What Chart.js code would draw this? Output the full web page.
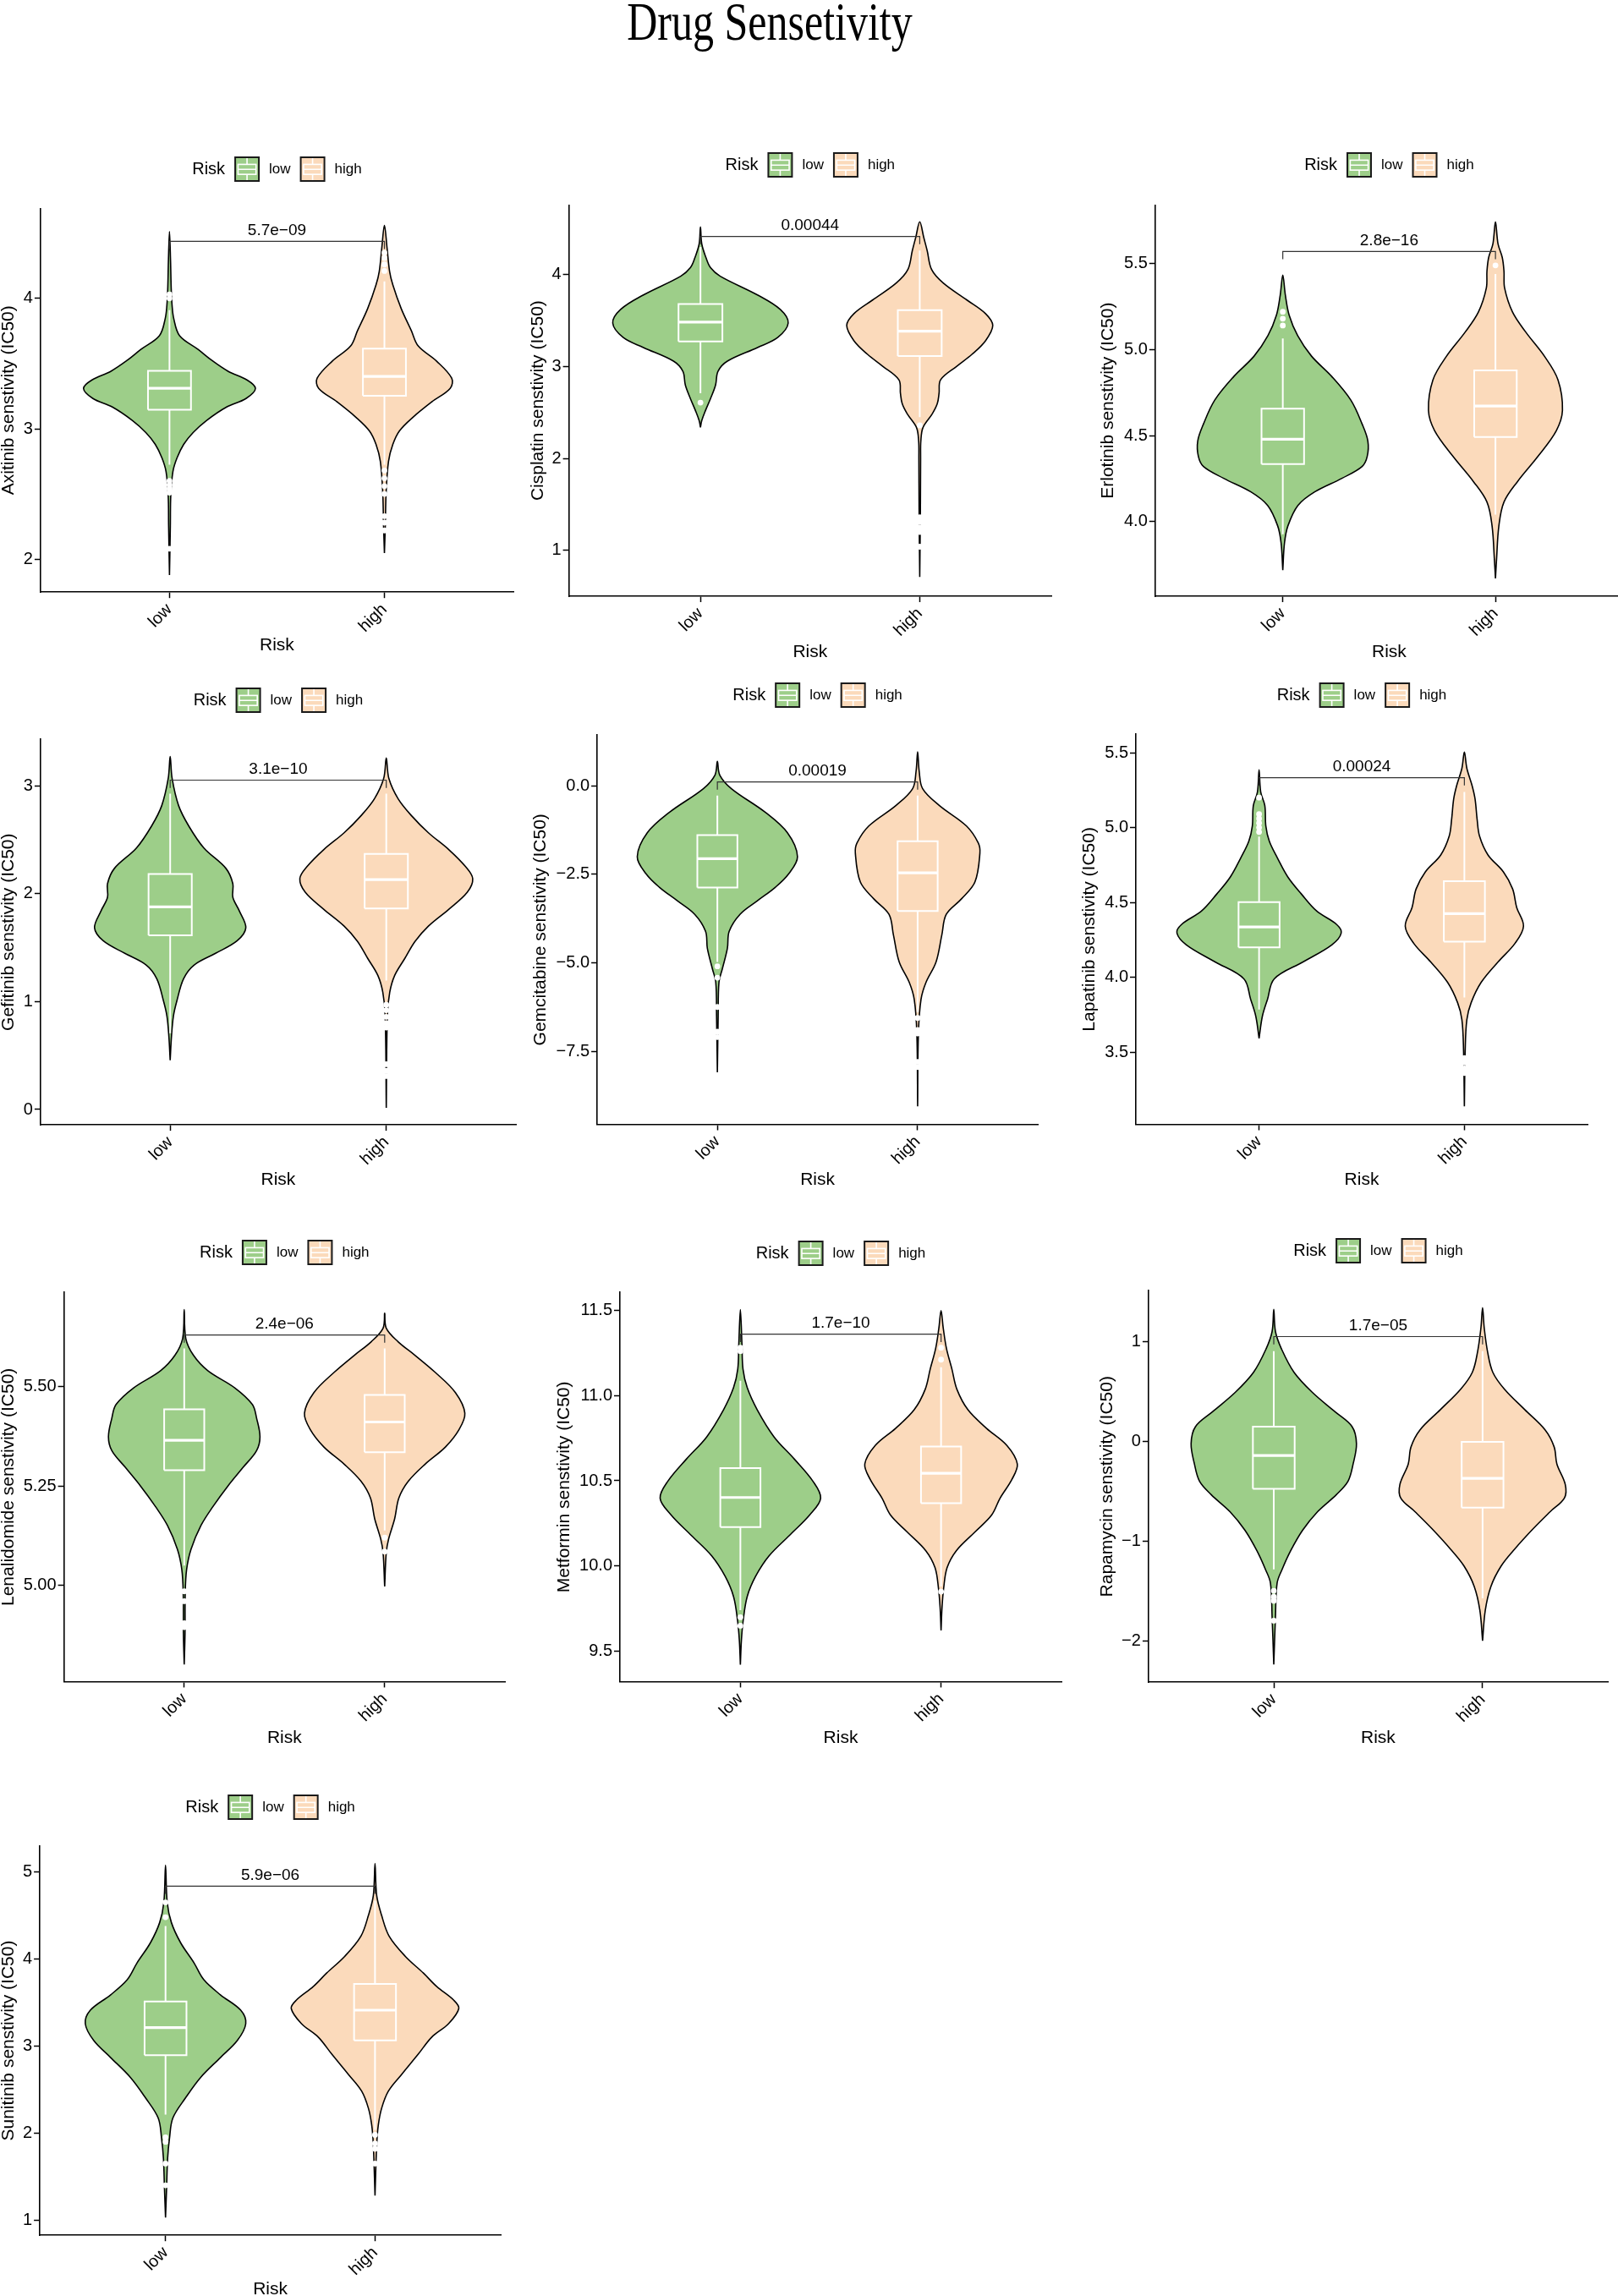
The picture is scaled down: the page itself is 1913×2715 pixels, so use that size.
<!DOCTYPE html>
<html><head><meta charset="utf-8">
<script src="https://cdn.jsdelivr.net/npm/chart.js@4.4.1/dist/chart.umd.min.js"></script>
<style>
html,body{margin:0;padding:0;background:#fff;width:1913px;height:2715px;overflow:hidden;position:relative;}
#title{position:absolute;left:910px;top:-6.6px;font-family:'Liberation Serif','Times New Roman',serif;font-size:50px;line-height:50px;white-space:nowrap;transform:translateX(-50%) scaleY(1.28);transform-origin:50% 0;color:#000;}
canvas{position:absolute;}
</style></head><body>
<div id="title">Drug Sensetivity</div>
<script>
// ---------------- DATA ----------------
const groups = ['low', 'high'];
const legendTitle = 'Risk';
const drugNames = ['Axitinib','Cisplatin','Erlotinib','Gefitinib','Gemcitabine','Lapatinib','Lenalidomide','Metformin','Rapamycin','Sunitinib'];
const pValueLabels = ['5.7e\u221209','0.00044','2.8e\u221216','3.1e\u221210','0.00019','0.00024','2.4e\u221206','1.7e\u221210','1.7e\u221205','5.9e\u221206'];
const bracketY = [4.4375, 4.414, 5.571, 3.053, 0.115, 5.333, 5.63, 11.359, 1.05, 4.837];
const yTickValues = [[2,3,4],[1,2,3,4],[4.0,4.5,5.0,5.5],[0,1,2,3],[-7.5,-5,-2.5,0],[3.5,4,4.5,5,5.5],[5,5.25,5.5],[9.5,10,10.5,11,11.5],[-2,-1,0,1],[1,2,3,4,5]];
const yTickLabels = [['2','3','4'],['1','2','3','4'],['4.0','4.5','5.0','5.5'],['0','1','2','3'],['\u22127.5','\u22125.0','\u22122.5','0.0'],['3.5','4.0','4.5','5.0','5.5'],['5.00','5.25','5.50'],['9.5','10.0','10.5','11.0','11.5'],['\u22122','\u22121','0','1'],['1','2','3','4','5']];

// violin density profiles (value, half width in category units)
const lowViolinY = [
 [1.878,2.255,2.49,2.672,2.776,2.88,2.971,3.063,3.167,3.232,3.31,3.375,3.44,3.526,3.609,3.714,3.844,3.948,4.078,4.286,4.513],
 [2.338,2.412,2.522,2.652,2.799,2.947,3.058,3.206,3.317,3.472,3.62,3.778,3.982,4.074,4.185,4.332,4.517],
 [3.717,3.875,3.974,4.093,4.172,4.251,4.32,4.379,4.468,4.567,4.706,4.844,4.962,5.081,5.2,5.318,5.433],
 [0.456,0.677,0.866,1.007,1.212,1.338,1.448,1.564,1.684,1.841,1.967,2.093,2.235,2.424,2.628,2.817,3.069,3.273],
 [-8.098,-6.513,-5.552,-5.168,-4.592,-4.111,-3.631,-3.247,-2.863,-2.478,-1.998,-1.326,-0.749,-0.077,0.307,0.692],
 [3.591,3.739,3.852,3.989,4.102,4.216,4.295,4.352,4.443,4.556,4.67,4.795,4.908,5.01,5.146,5.237,5.385],
 [4.801,4.878,4.98,5.04,5.091,5.151,5.198,5.25,5.297,5.339,5.374,5.421,5.455,5.497,5.54,5.579,5.621,5.694],
 [9.422,9.562,9.681,9.821,9.94,10.06,10.179,10.299,10.398,10.498,10.627,10.757,10.916,11.046,11.155,11.295,11.504],
 [-2.24,-1.763,-1.422,-1.285,-1.098,-0.893,-0.706,-0.535,-0.399,-0.228,-0.024,0.147,0.3,0.488,0.692,0.931,1.101,1.323],
 [1.031,1.36,1.709,1.941,2.173,2.406,2.638,2.87,3.064,3.257,3.412,3.587,3.761,3.955,4.187,4.419,4.651,5.077]
];
const lowViolinHalfWidth = [
 [0,0.004,0.006,0.016,0.035,0.066,0.11,0.172,0.266,0.356,0.40,0.36,0.274,0.196,0.133,0.047,0.02,0.012,0.008,0.005,0],
 [0,0.006,0.023,0.046,0.069,0.08,0.123,0.26,0.353,0.40,0.364,0.26,0.09,0.046,0.025,0.006,0],
 [0,0.008,0.024,0.071,0.15,0.278,0.373,0.397,0.40,0.373,0.32,0.23,0.135,0.07,0.03,0.012,0],
 [0,0.006,0.015,0.031,0.062,0.11,0.21,0.31,0.35,0.32,0.29,0.29,0.258,0.156,0.086,0.039,0.009,0],
 [0,0.004,0.008,0.025,0.05,0.059,0.113,0.20,0.29,0.357,0.40,0.35,0.24,0.07,0.012,0],
 [0,0.016,0.041,0.074,0.214,0.354,0.40,0.378,0.28,0.206,0.14,0.09,0.05,0.033,0.028,0.008,0],
 [0,0.004,0.005,0.012,0.034,0.084,0.143,0.218,0.294,0.361,0.378,0.361,0.34,0.252,0.118,0.046,0.008,0],
 [0,0.005,0.014,0.034,0.076,0.143,0.244,0.345,0.40,0.361,0.269,0.168,0.084,0.034,0.013,0.008,0],
 [0,0.008,0.016,0.04,0.081,0.138,0.21,0.3,0.356,0.38,0.396,0.375,0.291,0.186,0.097,0.036,0.008,0],
 [0,0.005,0.01,0.019,0.035,0.096,0.167,0.263,0.343,0.383,0.359,0.263,0.183,0.136,0.072,0.028,0.008,0]
];
const highViolinY = [
 [2.047,2.255,2.516,2.75,2.88,2.984,3.089,3.206,3.31,3.388,3.518,3.635,3.753,3.922,4.104,4.208,4.391,4.56],
 [0.712,1.451,2.005,2.19,2.338,2.485,2.596,2.707,2.855,3.003,3.132,3.28,3.446,3.575,3.723,3.908,4.055,4.259,4.406,4.573],
 [3.668,3.777,3.974,4.113,4.231,4.379,4.528,4.646,4.824,4.962,5.101,5.219,5.358,5.457,5.536,5.615,5.743],
 [0.016,0.866,1.086,1.243,1.401,1.558,1.7,1.857,2.014,2.14,2.251,2.408,2.565,2.723,2.88,3.069,3.258],
 [-9.059,-6.993,-6.033,-5.552,-4.976,-4.208,-3.631,-3.199,-2.719,-1.902,-1.614,-1.134,-0.557,-0.077,0.403,0.961],
 [3.137,3.512,3.716,3.83,3.966,4.102,4.227,4.341,4.465,4.59,4.704,4.817,4.942,5.056,5.192,5.283,5.396,5.505],
 [4.997,5.083,5.117,5.168,5.22,5.262,5.305,5.348,5.391,5.433,5.485,5.536,5.579,5.613,5.647,5.685],
 [9.622,9.761,9.871,9.99,10.09,10.199,10.299,10.398,10.508,10.598,10.707,10.807,10.916,11.036,11.155,11.275,11.394,11.498],
 [-2.001,-1.695,-1.456,-1.251,-1.081,-0.876,-0.706,-0.569,-0.433,-0.228,-0.058,0.113,0.317,0.522,0.692,0.897,1.135,1.34],
 [1.283,1.864,2.096,2.289,2.483,2.677,2.909,3.103,3.257,3.432,3.529,3.683,3.838,4.032,4.264,4.497,4.729,5.097]
];
const highViolinHalfWidth = [
 [0,0.004,0.008,0.019,0.039,0.07,0.133,0.22,0.306,0.313,0.243,0.157,0.125,0.078,0.039,0.024,0.012,0],
 [0,0.003,0.004,0.005,0.015,0.057,0.08,0.088,0.095,0.169,0.238,0.30,0.333,0.30,0.215,0.107,0.054,0.034,0.018,0],
 [0,0.005,0.016,0.04,0.103,0.2,0.286,0.315,0.294,0.23,0.143,0.08,0.043,0.04,0.032,0.012,0],
 [0,0.005,0.016,0.039,0.086,0.133,0.195,0.29,0.375,0.40,0.367,0.29,0.195,0.117,0.055,0.012,0],
 [0,0.004,0.017,0.042,0.092,0.121,0.143,0.218,0.286,0.311,0.303,0.244,0.109,0.025,0.008,0],
 [0,0.004,0.012,0.033,0.082,0.164,0.247,0.288,0.255,0.235,0.19,0.115,0.074,0.062,0.052,0.037,0.012,0],
 [0,0.008,0.02,0.05,0.071,0.118,0.202,0.303,0.37,0.40,0.353,0.252,0.151,0.067,0.008,0],
 [0,0.005,0.013,0.03,0.076,0.168,0.252,0.294,0.353,0.38,0.328,0.227,0.134,0.079,0.054,0.027,0.011,0],
 [0,0.013,0.04,0.089,0.154,0.243,0.324,0.392,0.396,0.356,0.343,0.3,0.202,0.105,0.049,0.024,0.008,0],
 [0,0.008,0.016,0.032,0.064,0.128,0.207,0.271,0.351,0.40,0.375,0.295,0.231,0.144,0.067,0.032,0.008,0]
];
// box stats: [lower whisker, Q1, median, Q3, upper whisker]
const lowBoxStats = [
 [2.724,3.146,3.31,3.445,3.909],[2.71,3.272,3.483,3.68,4.30],[3.925,4.334,4.478,4.656,5.065],
 [0.708,1.615,1.879,2.184,2.927],[-4.976,-2.872,-2.056,-1.393,-0.27],[3.784,4.20,4.336,4.502,4.94],
 [5.05,5.29,5.365,5.443,5.596],[9.741,10.229,10.402,10.574,11.086],[-1.285,-0.477,-0.143,0.147,0.904],
 [2.212,2.894,3.211,3.513,4.38]
];
const highBoxStats = [
 [2.724,3.253,3.401,3.615,4.13],[2.45,3.113,3.383,3.612,4.26],[4.04,4.492,4.672,4.879,5.44],
 [1.196,1.863,2.131,2.37,2.927],[-6.4,-3.535,-2.459,-1.566,-0.27],[3.864,4.238,4.425,4.642,5.237],
 [5.138,5.335,5.411,5.479,5.596],[9.88,10.369,10.544,10.701,11.165],[-1.575,-0.665,-0.372,-0.007,0.904],
 [2.038,3.064,3.412,3.714,4.671]
];
const lowOutliers = [
 [4.03,4.0,2.6,2.57,2.54,2.51,2.08],[2.607],[5.22,5.18,5.14],[],[-5.1,-5.42,-6.25,-6.95,-7.1],
 [4.97,5.0,5.03,5.06,5.09,5.2],[4.985,4.96,4.905,4.895],[11.28,11.26,9.7,9.65],[-1.5,-1.56,-1.6,-1.8],
 [4.65,4.48,1.95,1.9,1.65,1.4]
];
const highOutliers = [
 [4.35,4.31,4.26,4.21,2.68,2.62,2.56,2.5,2.33,2.28,2.22],[2.36,1.36,1.31,1.25,1.2,1.04],[5.49],
 [0.97,0.92,0.86,0.8,0.76,0.42,0.36,0.31],[-6.56,-6.9,-7.0,-7.8,-7.95],[3.46,3.43,3.39,3.36],
 [5.12,5.085],[11.28,11.21,9.85],[],[1.98,1.88,1.82,1.65]
];

// ---------------- LAYOUT (page pixels) ----------------
const panelLayout = [
 {titleX:10,  axisX:47.4,   top:246.3,  bottom:700.2,  right:610,    legendY:200,  xTitleY:762.4,  yMin:1.747,  yMax:4.691},
 {titleX:636, axisX:672.1,  top:242.3,  bottom:705,    right:1246.4, legendY:195,  xTitleY:770,    yMin:0.502,  yMax:4.757},
 {titleX:1310,axisX:1365.3, top:242.3,  bottom:705,    right:1922,   legendY:195,  xTitleY:770,    yMin:3.565,  yMax:5.842},
 {titleX:10,  axisX:47.4,   top:874.3,  bottom:1330.1, right:613.7,  legendY:828,  xTitleY:1393.8, yMin:-0.142, yMax:3.431},
 {titleX:639, axisX:705.6,  top:869.1,  bottom:1329.5, right:1230.7, legendY:822,  xTitleY:1393.8, yMin:-9.568, yMax:1.441},
 {titleX:1288,axisX:1342.5, top:868.3,  bottom:1329.5, right:1880.9, legendY:822,  xTitleY:1393.8, yMin:3.017,  yMax:5.623},
 {titleX:10,  axisX:75.1,   top:1528.3, bottom:1988.4, right:600.6,  legendY:1481, xTitleY:2053.5, yMin:4.758,  yMax:5.737},
 {titleX:667, axisX:732.5,  top:1528.3, bottom:1988.4, right:1258.5, legendY:1482, xTitleY:2053.5, yMin:9.323,  yMax:11.604},
 {titleX:1309,axisX:1357.4, top:1526.3, bottom:1989.2, right:1904,   legendY:1479, xTitleY:2053.5, yMin:-2.417, yMax:1.51},
 {titleX:10,  axisX:46.6,   top:2182.9, bottom:2643.2, right:595.9,  legendY:2137, xTitleY:2705.8, yMin:0.826,  yMax:5.298}
];

// ---------------- STYLE ----------------
const FONT = "'Liberation Sans', Arimo, Arial, Helvetica, sans-serif";
const fillColors = ['rgb(157,206,137)', 'rgb(251,218,187)'];
const BOX_HALF = 0.1;
Chart.defaults.font.family = FONT;
Chart.defaults.color = '#000';

function violinPoints(center, ys, hws) {
  const left = ys.map((y, k) => ({x: center - hws[k], y}));
  const right = ys.map((y, k) => ({x: center + hws[k], y})).reverse();
  return left.concat(right.slice(1));
}

function drawKey(ctx, x, y, s, color) {
  ctx.fillStyle = color;
  ctx.fillRect(x, y, s, s);
  ctx.strokeStyle = '#fff';
  ctx.lineWidth = 1.6;
  const bx0 = x + s * 0.12, bx1 = x + s * 0.88, by0 = y + s * 0.3, by1 = y + s * 0.72, cx = x + s / 2;
  ctx.strokeRect(bx0, by0, bx1 - bx0, by1 - by0);
  ctx.beginPath();
  ctx.moveTo(bx0, (by0 + by1) / 2); ctx.lineTo(bx1, (by0 + by1) / 2);
  ctx.moveTo(cx, y + 1); ctx.lineTo(cx, by0);
  ctx.moveTo(cx, by1); ctx.lineTo(cx, y + s - 1);
  ctx.stroke();
  ctx.strokeStyle = '#1a1a1a';
  ctx.lineWidth = 2;
  ctx.strokeRect(x, y, s, s);
}

panelLayout.forEach((L, i) => {
  const canvasLeft = L.titleX - 10.5;
  const canvasTop = L.legendY - 30;
  const W = Math.round(L.right - canvasLeft);
  const H = Math.round(L.xTitleY + 12 - canvasTop);
  const cv = document.createElement('canvas');
  cv.width = W; cv.height = H;
  cv.style.left = canvasLeft + 'px'; cv.style.top = canvasTop + 'px';
  cv.style.width = W + 'px'; cv.style.height = H + 'px';
  document.body.appendChild(cv);

  const yRange = L.yMax - L.yMin;
  const tip = 0.02 * yRange;
  const datasets = [];
  const stats = [lowBoxStats[i], highBoxStats[i]];
  const outl = [lowOutliers[i], highOutliers[i]];
  const vy = [lowViolinY[i], highViolinY[i]];
  const vw = [lowViolinHalfWidth[i], highViolinHalfWidth[i]];
  groups.forEach((g, gi) => {
    const c = gi + 1;
    const s = stats[gi];
    datasets.push({label: g + ' violin', data: violinPoints(c, vy[gi], vw[gi]), showLine: true,
      fill: 'shape', backgroundColor: fillColors[gi], borderColor: '#000', borderWidth: 1.6,
      pointRadius: 0, tension: 0.35, order: 10});
    datasets.push({label: g + ' box', data: [{x:c-BOX_HALF,y:s[1]},{x:c+BOX_HALF,y:s[1]},{x:c+BOX_HALF,y:s[3]},{x:c-BOX_HALF,y:s[3]},{x:c-BOX_HALF,y:s[1]}],
      showLine: true, fill: false, borderColor: '#fff', borderWidth: 2, pointRadius: 0, tension: 0, order: 5});
    datasets.push({label: g + ' median', data: [{x:c-BOX_HALF,y:s[2]},{x:c+BOX_HALF,y:s[2]}],
      showLine: true, fill: false, borderColor: '#fff', borderWidth: 3.2, pointRadius: 0, order: 4});
    datasets.push({label: g + ' whiskers', data: [{x:c,y:s[4]},{x:c,y:s[3]},{x:c,y:null},{x:c,y:s[1]},{x:c,y:s[0]}],
      showLine: true, spanGaps: false, fill: false, borderColor: '#fff', borderWidth: 2, pointRadius: 0, order: 5});
    datasets.push({label: g + ' outliers', data: outl[gi].map(v => ({x: c, y: v})), showLine: false,
      pointRadius: 3.4, pointBackgroundColor: '#fff', pointBorderWidth: 0, borderColor: '#fff', order: 1});
  });
  datasets.push({label: 'bracket', data: [{x:1,y:bracketY[i]-tip},{x:1,y:bracketY[i]},{x:2,y:bracketY[i]},{x:2,y:bracketY[i]-tip}],
    showLine: true, fill: false, borderColor: '#333', borderWidth: 1.2, pointRadius: 0, tension: 0, order: 2});

  const legendPlugin = {
    id: 'riskLegend' + i,
    afterDraw(chart) {
      const ctx = chart.ctx, ca = chart.chartArea;
      const cy = L.legendY - canvasTop;
      const key = 28, gap = 12;
      ctx.save();
      ctx.font = '20px ' + FONT;
      const tw = ctx.measureText(legendTitle).width;
      ctx.font = '17px ' + FONT;
      const lw = groups.map(g => ctx.measureText(g).width);
      const total = tw + gap + key + gap + lw[0] + gap + key + gap + lw[1];
      let x = (ca.left + ca.right) / 2 - total / 2;
      ctx.textBaseline = 'middle'; ctx.textAlign = 'left'; ctx.fillStyle = '#000';
      ctx.font = '20px ' + FONT;
      ctx.fillText(legendTitle, x, cy);
      x += tw + gap;
      groups.forEach((g, gi) => {
        drawKey(ctx, x, cy - key / 2, key, fillColors[gi]);
        x += key + gap;
        ctx.fillStyle = '#000';
        ctx.font = '17px ' + FONT;
        ctx.fillText(g, x, cy);
        x += lw[gi] + gap;
      });
      ctx.restore();
    },
    afterDatasetsDraw(chart) {
      const ctx = chart.ctx;
      const xs = chart.scales.x, ys = chart.scales.y;
      ctx.save();
      ctx.font = '19px ' + FONT;
      ctx.fillStyle = '#000';
      ctx.textAlign = 'center'; ctx.textBaseline = 'bottom';
      ctx.fillText(pValueLabels[i], xs.getPixelForValue(1.5), ys.getPixelForValue(bracketY[i]) - 3);
      ctx.restore();
    }
  };

  new Chart(cv, {
    type: 'scatter',
    data: {datasets},
    options: {
      responsive: false, animation: false,
      layout: {padding: {top: L.top - canvasTop, left: 0, right: 0, bottom: 0}},
      plugins: {legend: {display: false}, tooltip: {enabled: false}},
      scales: {
        x: {
          type: 'linear', min: 0.4, max: 2.6,
          afterBuildTicks: (sc) => { sc.ticks = groups.map((g, k) => ({value: k + 1})); },
          afterFit: (sc) => { sc.height = H - (L.bottom - canvasTop); },
          ticks: {autoSkip: false, minRotation: 45, maxRotation: 45, padding: 2, color: '#000',
            font: {size: 20}, callback: (v) => groups[Math.round(v) - 1]},
          grid: {display: true, drawOnChartArea: false, drawTicks: true, tickLength: 7, tickWidth: 1.5, tickColor: '#000'},
          border: {display: true, color: '#000', width: 1.6},
          title: {display: true, text: legendTitle, color: '#000', font: {size: 21, lineHeight: 1}, padding: 0}
        },
        y: {
          type: 'linear', min: L.yMin, max: L.yMax,
          afterBuildTicks: (sc) => { sc.ticks = yTickValues[i].map(v => ({value: v})); },
          afterFit: (sc) => { sc.width = L.axisX - canvasLeft; },
          ticks: {padding: 2, color: '#000', font: {size: 20}, callback: (v, k) => yTickLabels[i][k]},
          grid: {display: true, drawOnChartArea: false, drawTicks: true, tickLength: 7, tickWidth: 1.5, tickColor: '#000'},
          border: {display: true, color: '#000', width: 1.6},
          title: {display: true, text: drugNames[i] + ' senstivity (IC50)', color: '#000', font: {size: 21, lineHeight: 1}, padding: 0}
        }
      }
    },
    plugins: [legendPlugin]
  });
});
</script></body></html>
